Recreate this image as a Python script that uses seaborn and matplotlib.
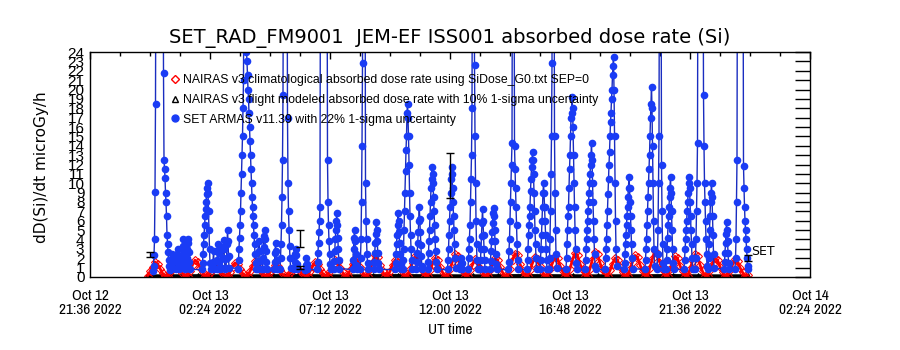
import numpy as np
import pandas as pd
import matplotlib
matplotlib.use("Agg")
import matplotlib.pyplot as plt
import matplotlib.dates as mdates
from matplotlib.ticker import FixedLocator, MultipleLocator
from matplotlib.lines import Line2D
from matplotlib import font_manager
import seaborn as sns

# ---- data (hours after 2022-10-13 00:00 UT) ----
# SET ARMAS: each pass = start hour + run of 1-minute-ish samples (microGy/h)
blue_pass_start = [0.12, 0.52, 0.85, 1.05, 1.25, 1.45, 2.08, 2.5, 2.66, 2.88, 3.04,
                   3.52, 3.84, 4.3, 4.5, 4.96, 5.2, 5.48, 5.76, 6.2, 6.68, 7.08,
                   7.35, 8.1, 8.4, 8.6, 8.95, 9.8, 10.1, 10.65, 11.1, 11.9, 12.4,
                   12.72, 12.96, 13.2, 13.6, 14.32, 14.56, 15.08, 15.6, 15.96, 16.16,
                   16.64, 17.4, 18.2, 18.96, 19.8, 20.28, 20.44, 20.64, 21.36, 21.8,
                   22.12, 22.32, 22.96, 23.4, 23.72]
blue_pass_vals = [
    [0.6, 1.2, 2.3, 4.0, 9.1, 18.5, 40],
    [40, 21.8, 12.5, 11.5, 10.6, 9.0, 8.0, 6.5, 4.5, 3.5, 2.7, 1.8, 1.2, 0.7],
    [0.8, 1.5, 2.5, 1.8, 1.0],
    [0.9, 1.6, 2.4, 3.0, 2.2, 1.4, 0.8],
    [1.0, 2.0, 3.0, 4.0, 3.3, 2.5, 1.5, 0.9],
    [1.0, 2.0, 3.0, 4.1, 3.6, 2.7, 1.6, 0.8],
    [0.8, 1.5, 2.5, 3.5, 4.5, 5.5, 6.5, 7.3, 8.0, 8.8, 9.5, 10.0, 9.0, 7.0, 5.0, 3.0, 1.5, 0.8],
    [0.8, 1.6, 2.8, 1.6, 0.9],
    [0.9, 1.8, 2.9, 3.5, 2.6, 1.6, 0.8],
    [1.0, 2.0, 3.2, 3.9, 3.0, 1.9, 0.9],
    [1.0, 2.0, 3.5, 5.0, 3.8, 2.2, 1.0],
    [0.9, 1.8, 3.0, 4.2, 5.5, 7.0, 9.0, 11.0, 13.0, 15.0, 18.0, 21.0, 40],
    [40, 24.0, 23.0, 21.5, 20.0, 19.0, 17.5, 16.0, 14.5, 13.0, 11.5, 10.0, 8.5, 7.5, 6.5,
     5.5, 4.5, 3.5, 2.5, 1.5, 0.8],
    [0.8, 1.7, 2.8, 3.8, 2.8, 1.7, 0.9],
    [0.9, 2.0, 3.2, 4.4, 5.0, 4.0, 2.8, 1.6, 0.8],
    [0.8, 1.6, 2.6, 3.6, 2.8, 1.8, 0.9],
    [0.9, 2.0, 3.5, 5.5, 8.5, 12.5, 19.4, 40],
    [40, 17.0, 10.0, 7.0, 5.0, 3.3, 2.0, 1.0],
    [0.8, 1.6, 2.5, 3.0, 2.3, 1.4, 0.8],
    [0.7, 1.3, 2.0, 1.4, 0.8],
    [0.8, 1.6, 2.6, 3.6, 4.8, 6.0, 7.5, 40],
    [40, 12.5, 8.0, 5.5, 3.8, 2.5, 1.4, 0.8],
    [0.8, 1.7, 2.8, 4.0, 5.0, 6.0, 6.8, 5.5, 4.2, 3.0, 1.8, 0.9],
    [0.8, 1.8, 3.0, 4.2, 5.0, 3.8, 2.5, 1.3, 0.8],
    [0.9, 2.0, 4.0, 8.0, 14.0, 22.8, 40],
    [40, 10.0, 6.0, 4.0, 2.5, 1.5, 0.8],
    [0.8, 1.6, 2.6, 3.6, 4.6, 5.9, 5.0, 3.8, 2.6, 1.5, 0.8],
    [0.8, 1.5, 2.5, 3.5, 4.5, 5.5, 6.8, 6.0, 4.8, 3.6, 2.4, 1.4, 0.8],
    [0.9, 1.8, 3.0, 5.0, 7.0, 9.0, 11.3, 13.5, 15.0, 17.5, 18.5, 17.0, 15.0, 12.0, 9.0,
     6.5, 4.5, 3.0, 1.8, 0.9],
    [0.8, 1.6, 2.6, 3.6, 4.8, 6.0, 7.5, 6.2, 4.8, 3.4, 2.2, 1.2, 0.8],
    [0.8, 1.6, 2.6, 3.8, 5.0, 6.5, 8.0, 9.5, 10.5, 11.7, 11.0, 10.0, 8.5, 7.0, 5.5, 4.0,
     2.8, 1.6, 0.8],
    [0.8, 1.8, 3.0, 4.5, 6.0, 7.5, 9.0, 10.5, 11.7, 11.0, 9.5, 8.0, 6.5, 5.0, 3.5, 2.0, 1.0],
    [0.8, 1.4, 2.0, 1.5, 0.9],
    [0.9, 2.0, 3.0, 4.0, 5.5, 8.0, 10.5, 13.0, 18.0, 40],
    [40, 22.6, 15.0, 10.0, 6.0, 3.5, 1.8, 0.8],
    [0.8, 1.8, 3.0, 4.4, 5.8, 7.3, 6.0, 4.5, 3.0, 1.8, 0.8],
    [0.8, 1.7, 2.8, 3.8, 4.8, 5.8, 6.8, 7.4, 6.5, 5.0, 3.8, 2.5, 1.4, 0.8],
    [0.8, 1.6, 2.8, 4.0, 6.0, 8.0, 10.0, 12.0, 14.3, 40],
    [40, 14.0, 11.5, 9.5, 7.5, 5.5, 3.5, 1.8, 0.8],
    [0.8, 1.8, 3.0, 4.5, 5.5, 6.5, 7.5, 9.2, 10.5, 11.7, 12.5, 13.3, 12.5, 11.0, 9.0, 7.0,
     5.0, 3.5, 2.0, 0.9],
    [0.8, 1.8, 3.0, 4.5, 6.0, 7.5, 9.0, 10.0, 9.0, 7.5, 6.0, 4.5, 3.0, 1.8, 0.8],
    [0.9, 2.0, 4.0, 7.0, 11.0, 15.0, 22.8, 40],
    [40, 15.0, 9.0, 5.0, 2.5, 1.0],
    [0.8, 2.0, 3.5, 5.0, 6.5, 7.5, 9.5, 11.5, 13.0, 15.0, 17.0, 17.5, 19.2, 18.0, 16.0,
     13.0, 10.0, 7.5, 5.0, 3.0, 1.5, 0.8],
    [0.8, 1.8, 3.0, 4.0, 5.0, 6.0, 7.0, 8.0, 9.0, 10.0, 11.0, 12.0, 13.0, 14.3, 12.5, 10.0,
     8.0, 6.0, 4.0, 2.5, 1.2, 0.8],
    [0.8, 2.0, 3.0, 4.0, 5.5, 7.0, 8.8, 10.5, 12.0, 13.3, 15.0, 16.5, 17.5, 19.0, 20.0,
     21.5, 22.5, 23.5, 20.0, 15.0, 10.0, 6.0, 3.0, 1.2],
    [0.8, 1.5, 2.5, 3.5, 4.5, 5.5, 6.5, 7.5, 8.5, 9.5, 10.7, 9.5, 8.0, 6.5, 5.0, 3.5, 2.0, 0.9],
    [0.8, 1.8, 3.0, 4.0, 5.5, 7.0, 8.5, 10.0, 11.5, 13.0, 15.0, 17.0, 18.5, 20.3, 18.0,
     14.0, 10.0, 6.0, 3.0, 1.2],
    [0.9, 2.5, 5.0, 10.0, 15.0, 40],
    [40, 12.0, 7.0, 3.5, 1.5, 0.8],
    [0.8, 1.8, 3.0, 4.2, 5.5, 6.5, 7.5, 8.5, 9.5, 10.7, 9.0, 7.0, 5.0, 3.0, 1.5, 0.8],
    [0.8, 1.8, 3.0, 4.0, 5.0, 6.0, 7.0, 8.0, 9.0, 10.0, 10.7, 9.5, 8.0, 6.5, 5.0, 3.5, 2.0, 0.9],
    [0.9, 2.0, 4.0, 7.0, 10.0, 14.3, 40],
    [40, 19.4, 14.0, 10.0, 8.0, 6.0, 4.0, 2.5, 1.2],
    [0.8, 2.0, 3.5, 5.0, 6.5, 8.0, 9.0, 10.0, 8.5, 6.5, 4.5, 2.5, 1.0],
    [0.8, 1.6, 2.6, 3.6, 4.6, 5.9, 5.0, 3.8, 2.6, 1.5, 0.8],
    [0.9, 2.0, 4.0, 8.0, 12.5, 40],
    [40, 11.8, 9.5, 7.5, 6.0, 5.0, 4.0, 3.0, 2.0, 1.2, 0.8],
]
blue_step_h = 0.02

# NAIRAS climatological, one value every 6 minutes from 2022-10-12 23:54
red_vals = [
    0.1, 0.6, 1.1, 1.6, 1.4, 0.9, 0.4, 0.1,  0.1, 0.5, 1.0, 1.4, 1.3, 0.8, 0.4, 0.1,
    0.1, 0.6, 1.3, 1.8, 1.6, 1.0, 0.5, 0.1,  0.1, 0.4, 0.8, 1.2, 1.1, 0.7, 0.3, 0.1,
    0.1, 0.5, 1.1, 1.5, 1.4, 0.8, 0.4, 0.1,  0.1, 0.6, 1.2, 1.7, 1.5, 0.9, 0.4, 0.1,
    0.1, 0.5, 0.9, 1.3, 1.2, 0.7, 0.3, 0.1,  0.1, 0.4, 0.7, 1.0, 0.9, 0.6, 0.3, 0.1,
    0.1, 0.6, 1.1, 1.6, 1.4, 0.9, 0.4, 0.1,  0.1, 0.6, 1.3, 1.8, 1.6, 1.0, 0.5, 0.1,
    0.1, 0.7, 1.4, 2.0, 1.8, 1.1, 0.5, 0.1,  0.1, 0.8, 1.6, 2.3, 2.1, 1.3, 0.6, 0.1,
    0.1, 0.6, 1.3, 1.8, 1.6, 1.0, 0.5, 0.1,  0.1, 0.8, 1.5, 2.2, 2.0, 1.2, 0.6, 0.1,
    0.1, 0.7, 1.4, 2.0, 1.8, 1.1, 0.5, 0.1,  0.1, 0.8, 1.7, 2.4, 2.2, 1.3, 0.6, 0.1,
    0.1, 0.7, 1.3, 1.9, 1.7, 1.0, 0.5, 0.1,  0.1, 0.7, 1.4, 2.0, 1.8, 1.1, 0.5, 0.1,
    0.1, 0.9, 1.8, 2.5, 2.3, 1.4, 0.6, 0.1,  0.1, 0.7, 1.5, 2.1, 1.9, 1.2, 0.5, 0.1,
    0.1, 0.8, 1.5, 2.2, 2.0, 1.2, 0.6, 0.1,  0.1, 0.9, 1.8, 2.6, 2.3, 1.4, 0.7, 0.1,
    0.1, 0.9, 1.9, 2.7, 2.4, 1.5, 0.7, 0.1,  0.1, 0.7, 1.4, 2.0, 1.8, 1.1, 0.5, 0.1,
    0.1, 0.8, 1.6, 2.3, 2.1, 1.3, 0.6, 0.1,  0.1, 1.0, 2.0, 2.8, 2.5, 1.5, 0.7, 0.1,
    0.1, 0.8, 1.5, 2.2, 2.0, 1.2, 0.6, 0.1,  0.1, 0.8, 1.7, 2.4, 2.2, 1.3, 0.6, 0.1,
    0.1, 0.7, 1.4, 2.0, 1.8, 1.1, 0.5, 0.1,  0.1, 0.7, 1.3, 1.9, 1.7, 1.0, 0.5, 0.1,
    0.2,
]

# NAIRAS flight modeled, hourly from 2022-10-12 23:54
black_vals = [0.06, 0.07, 0.08, 0.07, 0.06, 0.08, 0.09, 0.07, 0.06, 0.08, 0.09, 0.08, 0.07,
              0.06, 0.08, 0.09, 0.08, 0.07, 0.06, 0.07, 0.08, 0.09, 0.07, 0.06, 0.07]

# points with 1-sigma error bars
err_hours = [0.0, 6.0, 6.0, 12.0, 18.0, 23.92]
err_vals = [2.4, 4.1, 1.0, 10.8, 0.2, 2.0]
err_sig = [0.3, 0.95, 0.15, 2.4, 0.05, 0.3]

title = "SET_RAD_FM9001  JEM-EF ISS001 absorbed dose rate (Si)"
legend_labels = [
    "NAIRAS v3 climatological absorbed dose rate using SiDose_G0.txt SEP=0",
    "NAIRAS v3 flight modeled absorbed dose rate with 10% 1-sigma uncertainty",
    "SET ARMAS v11.39 with 22% 1-sigma uncertainty",
]

# ---- build frames ----
day0 = pd.Timestamp("2022-10-13 00:00")
rows = []
for start, vals in zip(blue_pass_start, blue_pass_vals):
    for k, v in enumerate(vals):
        rows.append((day0 + pd.Timedelta(hours=start + k * blue_step_h), v))
blue = pd.DataFrame(rows, columns=["time", "dose"])

red = pd.DataFrame({"time": pd.date_range("2022-10-12 23:54", periods=len(red_vals), freq="6min"),
                    "dose": red_vals})
black = pd.DataFrame({"time": pd.date_range("2022-10-12 23:54", periods=len(black_vals), freq="60min"),
                      "dose": black_vals})
err_time = [day0 + pd.Timedelta(hours=h) for h in err_hours]

# ---- style ----
sns.set_style("white")
plt.rcParams["font.family"] = ["DejaVu Sans"]
plt.rcParams["text.color"] = "black"
plt.rcParams["axes.labelcolor"] = "black"
plt.rcParams["xtick.color"] = "black"
plt.rcParams["ytick.color"] = "black"
names = sorted({f.name for f in font_manager.fontManager.ttflist})
narrow_opts = [n for n in names if "Narrow" in n or "Condensed" in n]
narrow = narrow_opts[0] if narrow_opts else "Liberation Sans"
narrow_size = 11 if narrow_opts else 9

fig = plt.figure(figsize=(9, 3.5), dpi=100)
ax = fig.add_axes([0.1, 0.2086, 0.8, 0.6428])

sns.lineplot(data=black, x="time", y="dose", color="black", lw=3, marker="^", markersize=4,
             markerfacecolor="none", markeredgecolor="black", estimator=None, sort=False, ax=ax)
sns.lineplot(data=red, x="time", y="dose", color="red", lw=2, marker="D", markersize=4,
             markerfacecolor="none", markeredgecolor="red", estimator=None, sort=False, ax=ax)
sns.lineplot(data=blue, x="time", y="dose", color="#1a2dc0", lw=1.0, marker="o", markersize=5.5,
             markerfacecolor="#1a3cf5", markeredgewidth=0, estimator=None, sort=False, ax=ax)
ax.errorbar(err_time, err_vals, yerr=err_sig, fmt="none", ecolor="black", elinewidth=1,
            capsize=3, capthick=1, zorder=5)
ax.text(day0 + pd.Timedelta(hours=24.05), 2.0, "SET", fontsize=9, va="bottom", ha="left")

# axes
x0 = pd.Timestamp("2022-10-12 21:36")
x1 = pd.Timestamp("2022-10-14 02:24")
ax.set_xlim(x0, x1)
ax.set_ylim(0, 24)
ax.xaxis.set_major_locator(FixedLocator(mdates.date2num(pd.date_range(x0, x1, freq="288min"))))
ax.xaxis.set_minor_locator(FixedLocator(mdates.date2num(pd.date_range(x0, x1, freq="72min"))))
ax.xaxis.set_major_formatter(mdates.DateFormatter("%b %d\n%H:%M %Y"))
ax.yaxis.set_major_locator(MultipleLocator(1))
ax.tick_params(axis="both", which="both", direction="in", top=True, right=True, colors="black")
ax.tick_params(axis="y", which="major", length=11, width=1, labelsize=11, pad=4)
ax.tick_params(axis="x", which="major", length=5, width=1, pad=9)
ax.tick_params(axis="x", which="minor", length=3, width=1)
for lab in ax.get_yticklabels():
    lab.set_family("Liberation Sans")
for lab in ax.get_xticklabels():
    lab.set_family(narrow)
    lab.set_fontsize(narrow_size)
    lab.set_linespacing(1.0)
for sp in ax.spines.values():
    sp.set_color("black")
    sp.set_linewidth(1)
ax.set_xlabel("")
ax.set_ylabel("")

fig.text(0.5, 1 - 38 / 350, title, ha="center", va="center", fontsize=14)
fig.text(42 / 900, 1 - 167 / 350, "dD(Si)/dt microGy/h", rotation=90, ha="center", va="center",
         fontsize=11)
fig.text(0.5, 1 - 330 / 350, "UT time", ha="center", va="center", fontsize=narrow_size,
         family=narrow)

handles = [
    Line2D([], [], ls="none", marker="D", ms=4, mfc="none", mec="red"),
    Line2D([], [], ls="none", marker="^", ms=5, mfc="none", mec="black"),
    Line2D([], [], ls="none", marker="o", ms=5, mfc="#1a3cf5", mec="#1a3cf5"),
]
ax.legend(handles, legend_labels, loc="upper left", bbox_to_anchor=(0.105, 0.93), frameon=False,
          handlelength=0.6, handletextpad=0.3, labelspacing=0.65, borderpad=0,
          prop={"family": "Liberation Sans", "size": 8.8})

fig.savefig("out.png", dpi=100)
